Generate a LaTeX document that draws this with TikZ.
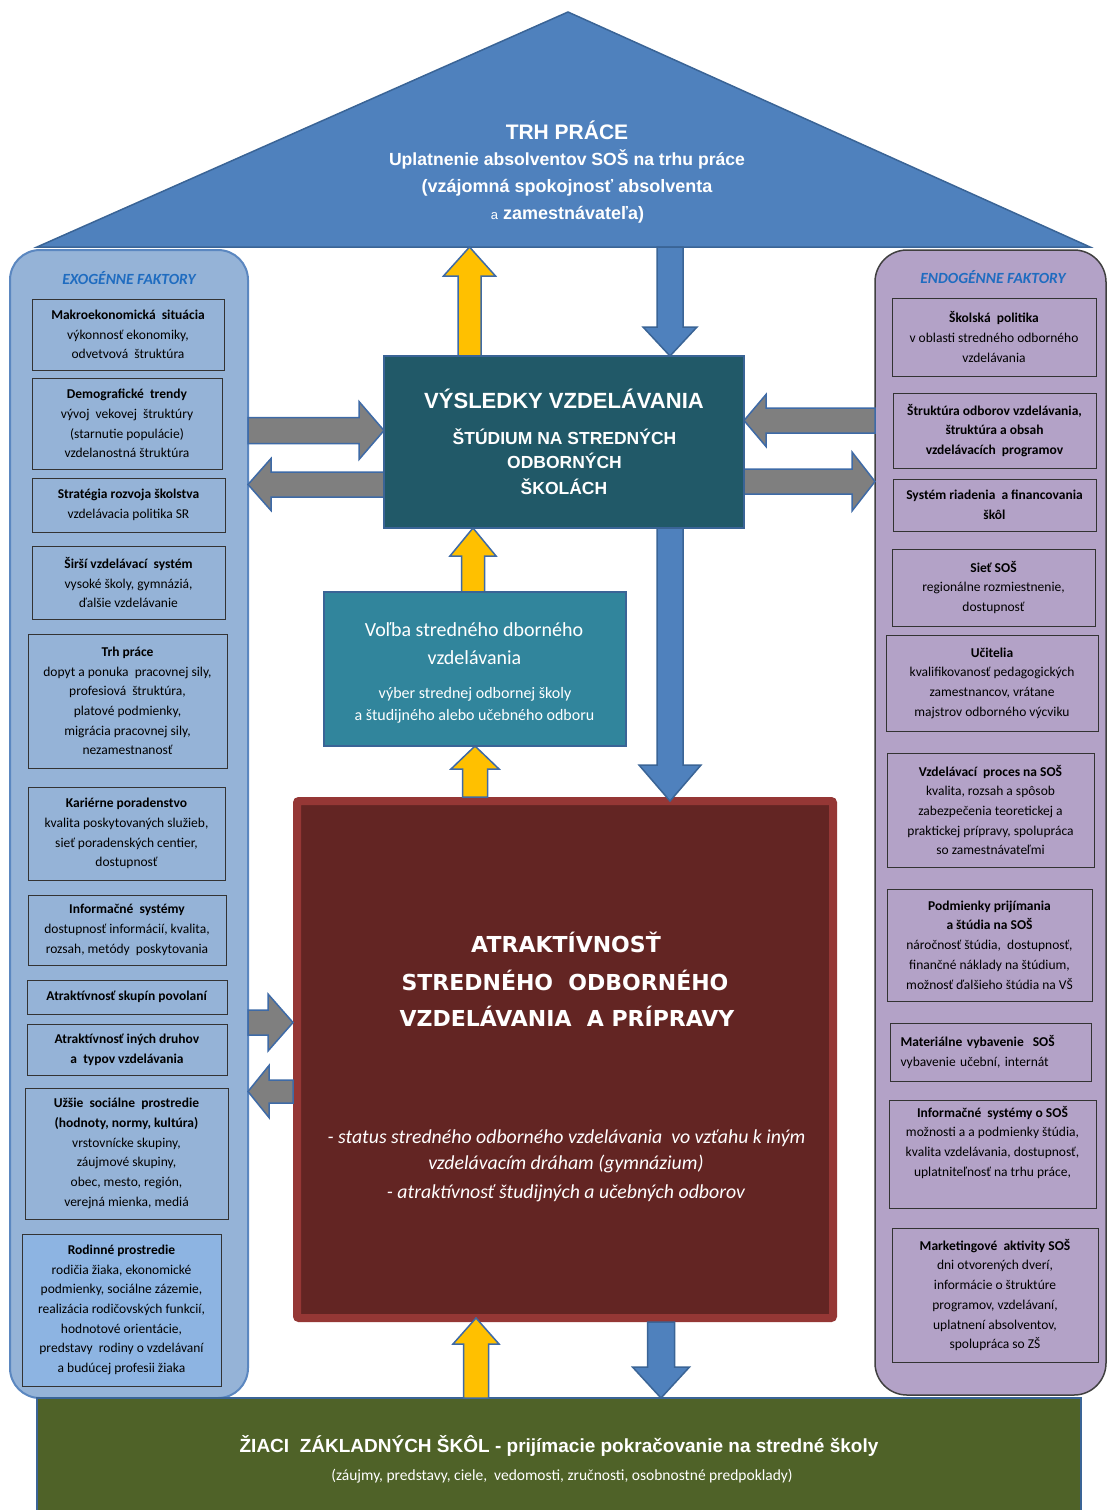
\documentclass[tikz,border=0pt]{standalone}
\usepackage{fontspec}
\setmainfont{Carlito}
\newfontfamily\arialf{Liberation Sans}
\newfontfamily\dejaf{DejaVu Sans}
\usetikzlibrary{calc}

\definecolor{triblue}{HTML}{4F81BD}
\definecolor{triedge}{HTML}{3A6496}
\definecolor{lpanel}{HTML}{95B3D7}
\definecolor{lpedge}{HTML}{5B87C0}
\definecolor{rodin}{HTML}{8DB4E2}
\definecolor{rpanel}{HTML}{B3A2C7}
\definecolor{vyscol}{HTML}{215968}
\definecolor{volbacol}{HTML}{31859C}
\definecolor{atrout}{HTML}{953735}
\definecolor{atrin}{HTML}{632523}
\definecolor{zsgreen}{HTML}{4F6228}
\definecolor{arrgray}{HTML}{7F7F7F}
\definecolor{arryel}{HTML}{FFC000}
\definecolor{arredge}{HTML}{3E6AA6}
\definecolor{titleblue}{HTML}{1F6CC0}

\newcommand\bx[7]{%
  \pgfmathsetmacro\bxw{#4-#2}\pgfmathsetmacro\bxh{#5-#3}%
  \pgfmathsetmacro\bxx{(#2+#4)/2}\pgfmathsetmacro\bxy{(#3+#5)/2}%
  \node[#6, minimum width=\bxw pt, minimum height=\bxh pt] (#1) at (\bxx,\bxy) {#7};}

% vertical block arrow: style, start, target (y used), shaft half, head half, head length
\newcommand\vblk[6]{%
  \path[#1] let \p1=(#2), \p2=(#3), \p3=($(\x1,\y2)!#6pt!(\x1,\y1)$) in
   (\x1-#4pt,\y1) -- (\x1-#4pt,\y3) -- (\x1-#5pt,\y3) -- (\x1,\y2) -- (\x1+#5pt,\y3) -- (\x1+#4pt,\y3) -- (\x1+#4pt,\y1) -- cycle;}
% horizontal block arrow
\newcommand\hblk[6]{%
  \path[#1] let \p1=(#2), \p2=(#3), \p3=($(\x2,\y1)!#6pt!(\x1,\y1)$) in
   (\x1,\y1-#4pt) -- (\x3,\y1-#4pt) -- (\x3,\y1-#5pt) -- (\x2,\y1) -- (\x3,\y1+#5pt) -- (\x3,\y1+#4pt) -- (\x1,\y1+#4pt) -- cycle;}

\tikzset{
  every node/.style={outer sep=0pt},
  tri/.style={fill=triblue, draw=triedge, line width=1.5pt, line join=miter},
  lbox/.style={draw=black!80, line width=1pt, fill=lpanel, align=center, inner sep=0pt,
    font=\fontsize{13.5}{19.7}\selectfont, text=black},
  rbox/.style={lbox, fill=rpanel},
  garr/.style={fill=arrgray, draw=arredge, line width=1.5pt, line join=miter},
  yarr/.style={fill=arryel, draw=arredge, line width=1.5pt, line join=miter},
  barr/.style={fill=triblue, draw=triedge, line width=1.5pt, line join=miter},
  wtxt/.style={inner sep=0pt, anchor=base, text=white},
  ptitle/.style={inner sep=0pt, anchor=base, text=titleblue, font=\fontsize{15.5}{18}\selectfont\bfseries\itshape},
}

\begin{document}
\begin{tikzpicture}[x=1pt,y=-1pt]
\useasboundingbox (0,0) rectangle (1108,1510);
\clip (0,0) rectangle (1108,1510);
\fill[white] (0,0) rectangle (1108,1510);

% roof
\draw[tri] (37,247) -- (568,12) -- (1090,247) -- cycle;
\coordinate (tribase) at (568,247);

% panels
\bx{lp}{10}{250}{248}{1398}{draw=lpedge, line width=2pt, fill=lpanel, rounded corners=30pt}{}
\bx{rp}{875}{250}{1106}{1395}{draw=black!75, line width=1.5pt, fill=rpanel, rounded corners=32pt}{}
\bx{zs}{37}{1398}{1081}{1514}{draw=triedge, line width=1.5pt, fill=zsgreen}{}

\node[ptitle] (lt) at (129,284) {EXOGÉNNE FAKTORY};
\node[ptitle] (rt) at (993,283) {ENDOGÉNNE FAKTORY};

% left boxes
\bx{l1}{32}{299}{224}{370}{lbox}{\textbf{Makroekonomická\ \ situácia}\\výkonnosť ekonomiky,\\odvetvová\ \ štruktúra}
\bx{l2}{32}{378}{222}{469}{lbox}{\textbf{Demografické\ \ trendy}\\vývoj\ \ vekovej\ \ štruktúry\\(starnutie populácie)\\vzdelanostná štruktúra}
\bx{l3}{32}{478}{225}{532}{lbox}{\textbf{Stratégia rozvoja školstva}\\vzdelávacia politika SR}
\bx{l4}{32}{546}{225}{619}{lbox}{\textbf{Širší vzdelávací\ \ systém}\\vysoké školy, gymnáziá,\\ďalšie vzdelávanie}
\bx{l5}{28}{634}{227}{768}{lbox}{\textbf{Trh práce}\\dopyt a ponuka\ \ pracovnej sily,\\profesiová\ \ štruktúra,\\platové podmienky,\\migrácia pracovnej sily,\\nezamestnanosť}
\bx{l6}{28}{787}{225}{880}{lbox}{\textbf{Kariérne poradenstvo}\\kvalita poskytovaných služieb,\\sieť poradenských centier,\\dostupnosť}
\bx{l7}{28}{895}{226}{965}{lbox}{\textbf{Informačné\ \ systémy}\\dostupnosť informácií, kvalita,\\rozsah, metódy\ \ poskytovania}
\bx{l8}{27}{980}{227}{1014}{lbox}{\textbf{Atraktívnosť skupín povolaní}}
\bx{l9}{27}{1024}{227}{1075}{lbox}{\textbf{Atraktívnosť iných druhov}\\\textbf{a\ \ typov vzdelávania}}
\bx{l10}{25}{1088}{228}{1219}{lbox}{\textbf{Užšie\ \ sociálne\ \ prostredie}\\\textbf{(hodnoty, normy, kultúra)}\\vrstovnícke skupiny,\\záujmové skupiny,\\obec, mesto, región,\\verejná mienka, mediá}
\bx{l11}{22}{1234}{221}{1386}{lbox, fill=rodin}{\textbf{Rodinné prostredie}\\rodičia žiaka, ekonomické\\podmienky, sociálne zázemie,\\realizácia rodičovských funkcií,\\hodnotové orientácie,\\predstavy\ \ rodiny o vzdelávaní\\a budúcej profesii žiaka}

% right boxes
\bx{r1}{892}{298}{1096}{376}{rbox}{\textbf{Školská\ \ politika}\\v oblasti stredného odborného\\vzdelávania}
\bx{r2}{893}{393}{1096}{468}{rbox}{\textbf{Štruktúra odborov vzdelávania,}\\\textbf{štruktúra a obsah}\\\textbf{vzdelávacích\ \ programov}}
\bx{r3}{893}{479}{1096}{531}{rbox}{\textbf{Systém riadenia\ \ a financovania}\\\textbf{škôl}}
\bx{r4}{892}{549}{1095}{626}{rbox}{\textbf{Sieť SOŠ}\\regionálne rozmiestnenie,\\dostupnosť}
\bx{r5}{886}{635}{1098}{731}{rbox}{\textbf{Učitelia}\\kvalifikovanosť pedagogických\\zamestnancov, vrátane\\majstrov odborného výcviku}
\bx{r6}{887}{753}{1094}{867}{rbox}{\textbf{Vzdelávací\ \ proces na SOŠ}\\kvalita, rozsah a spôsob\\zabezpečenia teoretickej a\\praktickej prípravy, spolupráca\\so zamestnávateľmi}
\bx{r7}{887}{889}{1092}{1001}{rbox}{\textbf{Podmienky prijímania}\\\textbf{a štúdia na SOŠ}\\náročnosť štúdia,\ \ dostupnosť,\\finančné náklady na štúdium,\\možnosť ďalšieho štúdia na VŠ}
\bx{r8}{890}{1023}{1091}{1081}{rbox, align=left, text width=180pt}{\textbf{Materiálne vybavenie\ \ SOŠ}\\vybavenie učební, internát}
\bx{r9}{889}{1100}{1096}{1208}{rbox}{\textbf{Informačné\ \ systémy o SOŠ}\\možnosti a a podmienky štúdia,\\kvalita vzdelávania, dostupnosť,\\uplatniteľnosť na trhu práce,\\\strut}
\bx{r10}{892}{1228}{1098}{1362}{rbox}{\textbf{Marketingové\ \ aktivity SOŠ}\\dni otvorených dverí,\\informácie o štruktúre\\programov, vzdelávaní,\\uplatnení absolventov,\\spolupráca so ZŠ}

% central boxes (geometry first, for anchors)
\bx{vys}{384}{356}{744}{528}{draw=triedge, line width=2pt, fill=vyscol}{}
\bx{volba}{324}{592}{626}{746}{draw=triedge, line width=2pt, fill=volbacol}{}
\bx{atr}{297}{801}{833}{1318}{draw=atrout, line width=8pt, fill=atrin, rounded corners=2pt}{}

% block arrows
\vblk{yarr}{$(vys.north)+(-94.5,0)$}{tribase}{11.5}{26}{29}
\vblk{barr}{$(tribase)+(102,0)$}{vys.north}{13}{27}{29}
\vblk{barr}{$(vys.south)+(106,0)$}{atr.north}{13}{31}{36}
\vblk{yarr}{$(volba.north)+(-2,0)$}{vys.south}{11.5}{23}{28}
\vblk{yarr}{$(atr.north)+(-90,-4)$}{volba.south}{12.5}{24}{23}
\vblk{yarr}{$(zs.north)+(-83,0)$}{atr.south}{12.5}{23}{26}
\vblk{barr}{$(atr.south)+(96,4)$}{zs.north}{13.5}{28.5}{31}
\hblk{garr}{$(vys.west -| lp.east)+(0,-11.5)$}{vys.west}{13}{29}{25}
\hblk{garr}{$(vys.west)+(0,42.5)$}{lp.east}{12.5}{26}{23}
\hblk{garr}{$(vys.east -| rp.west)+(0,-21.5)$}{vys.east}{12.5}{26}{22}
\hblk{garr}{$(vys.east)+(0,39.5)$}{rp.west}{12.5}{29.5}{23}
\hblk{garr}{$(atr.west -| lp.east)+(0,-37)$}{$(atr.west)+(-4,0)$}{12.5}{28.5}{25}
\hblk{garr}{$(atr.west)+(-4,32)$}{lp.east}{11.5}{26}{21}

% redraw central boxes on top of arrow ends
\bx{vysb}{384}{356}{744}{528}{draw=triedge, line width=2pt, fill=vyscol}{}
\bx{volbab}{324}{592}{626}{746}{draw=triedge, line width=2pt, fill=volbacol}{}

% roof text
\node[wtxt, font=\arialf\bfseries\fontsize{21}{24}\selectfont] (t1) at (567,139) {TRH PRÁCE};
\node[wtxt, font=\arialf\bfseries\fontsize{17.6}{20}\selectfont] (t2) at (567,165.5) {Uplatnenie absolventov SOŠ na trhu práce};
\node[wtxt, font=\arialf\bfseries\fontsize{18}{20}\selectfont] (t3) at (567,192) {(vzájomná spokojnosť absolventa};
\node[wtxt, font=\arialf\bfseries\fontsize{18}{20}\selectfont] (t4) at (567.5,219) {{\mdseries\fontsize{13}{15}\selectfont a} zamestnávateľa)};

% VÝSLEDKY text
\node[wtxt, font=\arialf\bfseries\fontsize{22}{24}\selectfont] (v1) at (564,408) {VÝSLEDKY VZDELÁVANIA};
\node[wtxt, font=\arialf\bfseries\fontsize{17.5}{20}\selectfont] (v2) at (564.5,444) {ŠTÚDIUM NA STREDNÝCH};
\node[wtxt, font=\arialf\bfseries\fontsize{17.5}{20}\selectfont] (v3) at (564.5,468.5) {ODBORNÝCH};
\node[wtxt, font=\arialf\bfseries\fontsize{17.5}{20}\selectfont] (v4) at (564,494) {ŠKOLÁCH};

% Voľba text
\node[wtxt, font=\fontsize{20}{22}\selectfont] (b1) at (474,636) {Voľba stredného dborného};
\node[wtxt, font=\fontsize{20}{22}\selectfont] (b2) at (474.5,664) {vzdelávania};
\node[wtxt, font=\fontsize{16}{18}\selectfont] (b3) at (475,698) {výber strednej odbornej školy};
\node[wtxt, font=\fontsize{16}{18}\selectfont] (b4) at (474.5,720) {a študijného alebo učebného odboru};

% ATRAKTÍVNOSŤ text
\node[wtxt, font=\dejaf\bfseries\fontsize{22}{24}\selectfont] (a1) at (566,952) {ATRAKTÍVNOSŤ};
\node[wtxt, font=\dejaf\bfseries\fontsize{22}{24}\selectfont] (a2) at (565,990) {STREDNÉHO\ \ ODBORNÉHO};
\node[wtxt, font=\dejaf\bfseries\fontsize{22}{24}\selectfont] (a3) at (567,1026) {VZDELÁVANIA\ \ A PRÍPRAVY};
\node[wtxt, font=\itshape\fontsize{19.8}{22}\selectfont] (a4) at (566.5,1143) {- status stredného odborného vzdelávania\ \ vo vzťahu k iným};
\node[wtxt, font=\itshape\fontsize{19.8}{22}\selectfont] (a5) at (566,1169.5) {vzdelávacím dráham (gymnázium)};
\node[wtxt, font=\itshape\fontsize{19.8}{22}\selectfont] (a6) at (566,1198) {- atraktívnosť študijných a učebných odborov};

% bottom text
\node[wtxt, font=\arialf\bfseries\fontsize{19}{22}\selectfont] (z1) at (559,1452) {ŽIACI\ \ ZÁKLADNÝCH ŠKÔL - prijímacie pokračovanie na stredné školy};
\node[wtxt, font=\fontsize{15.5}{17}\selectfont] (z2) at (562,1480) {(záujmy, predstavy, ciele,\ \ vedomosti, zručnosti, osobnostné predpoklady)};
\end{tikzpicture}
\end{document}
